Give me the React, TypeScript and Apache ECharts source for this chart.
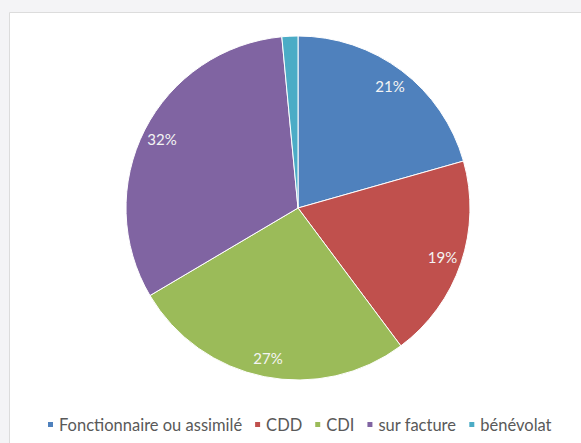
import React, { useEffect, useRef } from "react";
import * as echarts from "echarts";

const categories = ["Fonctionnaire ou assimilé", "CDD", "CDI", "sur facture", "bénévolat"];
const values = [20.6, 19.2, 26.7, 32.0, 1.5];
const colors = ["#4F81BD", "#C0504D", "#9BBB59", "#8064A2", "#4BACC6"];
const showLabel = [true, true, true, true, false];

export default function App() {
  const ref = useRef<HTMLDivElement>(null);
  useEffect(() => {
    if (!ref.current) return;
    const chart = echarts.init(ref.current, undefined, { renderer: "svg" });
    const pieData = categories.map((name, i) => ({
      name,
      value: values[i],
      itemStyle: { color: colors[i] },
    }));
    const labelData = categories.map((name, i) => ({
      name,
      value: values[i],
      label: { show: showLabel[i] },
    }));
    const cx = 298;
    const cy = 208;
    const r = 172;
    chart.setOption({
      animation: false,
      backgroundColor: "#f4f4f6",
      graphic: [
        {
          type: "rect",
          z: -10,
          shape: { x: 9.5, y: 12.5, width: 580, height: 440 },
          style: { fill: "#ffffff", stroke: "#dcdcdc", lineWidth: 1 },
          silent: true,
        },
      ],
      legend: {
        data: categories,
        left: 41,
        top: 411,
        icon: "rect",
        itemWidth: 7,
        itemHeight: 7,
        itemGap: 11,
        textStyle: { color: "#595959", fontFamily: "Lato", fontSize: 16.5 },
      },
      series: [
        {
          type: "pie",
          center: [cx, cy],
          radius: [0, r],
          startAngle: 90,
          clockwise: true,
          data: pieData,
          label: { show: false },
          labelLine: { show: false },
          itemStyle: { borderColor: "#ffffff", borderWidth: 1 },
          emphasis: { disabled: true },
          silent: true,
        },
        {
          type: "pie",
          center: [cx, cy],
          radius: [0, r * 1.74],
          startAngle: 90,
          clockwise: true,
          z: 5,
          data: labelData,
          itemStyle: { color: "rgba(0,0,0,0)" },
          label: {
            show: true,
            position: "inside",
            color: "#f4f4f4",
            fontFamily: "Lato",
            fontSize: 15,
            formatter: (p: any) => Math.round(p.value) + "%",
          },
          labelLine: { show: false },
          emphasis: { disabled: true },
          silent: true,
          legendHoverLink: false,
        },
      ],
    });
    return () => chart.dispose();
  }, []);
  return (
    <div
      ref={ref}
      style={{ position: "fixed", left: 0, top: 0, width: 581, height: 443 }}
    />
  );
}
